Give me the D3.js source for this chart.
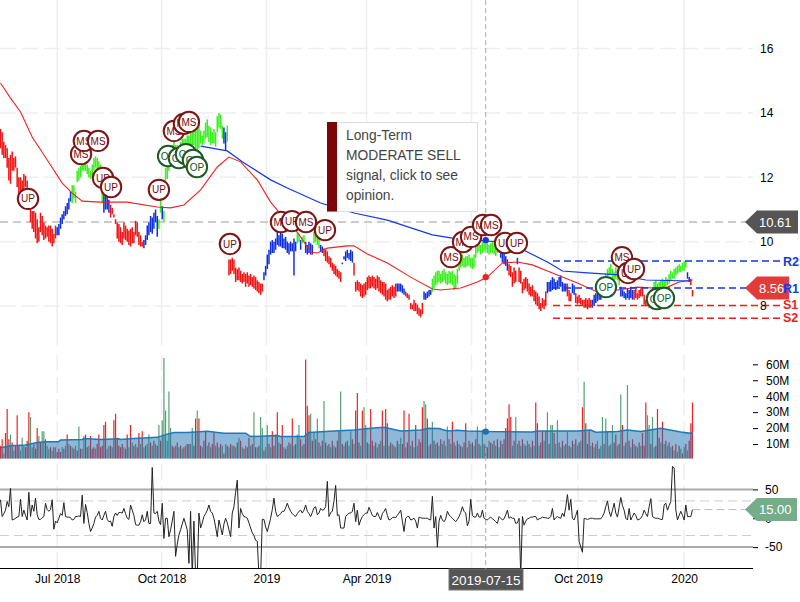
<!DOCTYPE html>
<html>
<head>
<meta charset="utf-8">
<title>Stock chart</title>
<script src="https://cdn.jsdelivr.net/npm/d3@7"></script>
<style>
    body { margin: 0; background: #fff; }
    svg { display: block; }
    text { font-family: "Liberation Sans", Arial, sans-serif; }
</style>
</head>
<body>
<div id="chart"></div>
<script>
// daily bars, oldest first
const priceHigh = [
    13.5,13.4,13.1,13.0,12.9,12.6,12.7,12.8,12.6,12.65,
    12.3,12.0,12.0,11.9,12.1,12.05,11.9,11.5,11.2,10.95,
    10.95,10.9,10.7,10.45,10.9,10.8,10.6,10.5,10.45,10.5,
    10.5,10.4,10.25,10.5,10.45,10.55,10.75,10.85,10.95,11.1,
    11.2,11.35,11.55,11.75,11.75,11.55,12.2,12.3,12.35,12.45,
    12.5,12.45,12.4,12.3,12.2,12.4,12.6,12.65,12.6,12.5,
    12.4,12.3,11.6,11.55,11.4,11.3,11.15,11.05,10.85,10.7,
    10.6,10.55,10.45,10.3,10.6,10.5,10.4,10.35,10.4,10.45,
    10.3,10.65,10.6,10.3,10.2,10.0,10.05,10.2,10.5,10.6,
    10.8,10.75,10.9,11.0,10.8,10.7,11.3,11.1,10.95,12.3,
    12.4,12.6,12.9,13.0,13.1,13.0,13.0,12.9,13.1,13.2,
    13.2,13.2,13.3,13.3,13.4,13.5,13.6,13.7,13.7,13.65,
    13.45,13.3,13.45,13.7,13.8,13.6,13.55,13.4,13.5,13.4,
    13.9,14.0,13.95,13.6,13.55,13.4,13.6,9.45,9.45,9.5,
    9.45,9.2,9.15,9.2,9.1,9.0,9.05,9.0,9.05,8.95,
    9.0,8.9,8.95,8.9,8.8,8.75,8.7,8.7,9.05,9.25,
    9.6,9.75,10.0,10.05,10.0,10.1,10.3,10.2,10.3,10.25,
    10.1,10.15,10.0,9.95,10.0,9.95,10.1,10.0,10.3,10.25,
    10.05,10.15,10.2,10.0,9.9,10.0,9.95,9.9,10.3,10.25,
    10.25,10.15,9.9,9.85,9.8,9.75,9.7,9.55,9.5,9.35,
    9.3,9.25,9.15,9.1,9.05,9.3,9.55,9.7,9.75,9.65,
    9.75,9.7,9.35,8.75,8.8,8.75,8.7,8.65,8.7,8.75,
    8.9,8.95,8.9,8.95,8.9,8.85,8.95,8.9,8.8,8.75,
    8.75,8.7,8.5,8.55,8.6,8.65,8.6,8.7,8.7,8.7,
    8.7,8.65,8.55,8.45,8.4,8.35,8.1,8.05,8.2,8.1,
    8.05,7.95,7.9,8.1,8.45,8.4,8.45,8.5,8.5,8.85,
    8.95,9.05,9.1,9.1,9.0,9.1,9.15,9.05,9.0,9.1,
    9.05,9.1,9.0,8.95,9.15,9.4,9.55,9.6,9.5,9.55,
    9.55,9.6,9.5,9.5,9.6,9.95,10.0,10.05,9.9,10.0,
    10.05,10.1,10.0,9.9,9.95,10.0,9.95,9.9,10.05,10.1,
    9.85,9.75,9.7,9.55,9.45,9.3,9.25,9.05,9.2,9.1,
    9.5,9.2,9.1,8.75,8.85,8.9,8.85,8.7,8.6,8.65,
    8.5,8.45,8.4,8.3,8.1,8.25,8.2,8.45,8.75,8.75,
    8.8,8.9,8.85,8.75,8.8,8.9,8.95,8.75,8.7,8.7,
    8.7,8.5,8.4,8.7,8.65,8.4,8.3,8.35,8.25,8.2,
    8.2,8.25,8.2,8.25,8.2,8.2,8.35,8.4,8.45,8.5,
    8.5,8.7,8.85,9.0,9.15,9.2,9.3,9.15,9.05,9.2,
    9.1,9.0,8.6,8.5,8.45,8.4,8.55,8.5,8.6,8.5,
    8.5,8.55,8.4,8.5,8.55,8.6,8.35,8.2,8.3,8.2,
    8.2,8.15,8.75,8.8,8.7,8.75,8.8,8.85,8.8,8.9,
    8.85,9.0,9.1,9.05,9.15,9.2,9.25,9.3,9.25,9.35,
    9.4,9.4,9.05,8.9,8.85,8.5
];
const priceLow = [
    12.9,12.7,12.6,12.6,12.3,11.9,11.8,12.2,12.2,12.3,
    11.7,11.45,11.5,11.5,11.6,11.7,11.5,11.0,10.6,10.4,
    10.3,10.1,9.95,10.0,10.3,10.2,10.05,10.1,10.15,10.0,
    9.95,9.85,9.95,10.1,10.2,10.2,10.4,10.55,10.7,10.8,
    10.85,11.0,11.25,11.2,11.35,11.2,11.85,11.9,12.0,12.2,
    12.2,12.2,12.1,12.0,11.95,12.0,12.2,12.3,12.2,12.0,
    12.0,11.2,10.9,11.0,11.0,10.9,10.75,10.85,10.75,10.55,
    10.1,10.0,9.95,9.9,10.1,10.05,10.0,9.9,9.85,9.95,
    9.95,10.2,10.15,9.9,9.85,9.85,9.8,9.9,10.05,10.2,
    10.3,10.25,10.4,10.6,10.15,10.4,10.9,10.7,10.6,11.9,
    11.95,12.2,12.5,12.7,12.75,12.7,12.7,12.75,12.8,12.85,
    12.9,12.85,12.9,13.0,13.0,13.0,13.0,12.85,12.85,12.9,
    13.05,13.0,13.05,13.2,13.25,13.1,13.0,13.05,13.05,12.95,
    13.4,13.55,13.5,13.2,13.05,12.85,13.1,8.95,9.0,9.1,
    9.0,8.75,8.8,8.8,8.75,8.7,8.75,8.6,8.7,8.6,
    8.65,8.6,8.55,8.5,8.45,8.4,8.35,8.45,8.8,8.95,
    9.15,9.3,9.6,9.65,9.65,9.75,9.9,9.85,9.85,9.8,
    9.8,9.75,9.65,9.6,9.7,9.7,8.95,9.7,9.95,10.0,
    9.75,9.95,10.0,9.65,9.6,9.65,9.6,9.6,9.95,10.0,
    9.9,9.8,9.7,9.65,9.55,9.4,9.35,9.3,9.2,9.1,
    9.0,8.95,8.9,8.85,8.75,9.35,9.45,9.4,9.5,9.45,
    9.4,9.35,8.95,8.45,8.5,8.45,8.3,8.25,8.3,8.35,
    8.5,8.55,8.55,8.6,8.55,8.5,8.55,8.45,8.4,8.35,
    8.3,8.2,8.15,8.2,8.2,8.3,8.25,8.3,8.45,8.45,
    8.45,8.4,8.35,8.3,8.25,8.2,7.9,7.9,7.85,7.85,
    7.75,7.7,7.65,7.75,8.2,8.2,8.25,8.3,8.35,8.45,
    8.55,8.65,8.7,8.75,8.7,8.75,8.8,8.7,8.65,8.7,
    8.7,8.65,8.5,8.55,8.7,9.1,9.2,9.25,9.2,9.2,
    9.25,9.25,9.2,9.15,9.2,9.5,9.65,9.7,9.6,9.65,
    9.7,9.75,9.65,9.6,9.65,9.65,9.6,9.55,9.65,9.7,
    9.5,9.35,9.3,9.25,9.1,8.95,8.9,8.6,8.7,8.75,
    9.3,8.75,8.7,8.4,8.5,8.55,8.45,8.35,8.3,8.3,
    8.15,8.05,8.0,7.9,7.85,7.95,7.9,8.0,8.4,8.45,
    8.45,8.5,8.55,8.5,8.55,8.6,8.6,8.45,8.45,8.45,
    8.3,8.15,8.15,8.4,8.35,8.1,8.05,8.1,8.05,8.0,
    7.95,7.95,7.9,7.95,7.95,7.95,8.0,8.1,8.15,8.2,
    8.2,8.5,8.6,8.7,8.9,8.95,9.0,8.85,8.8,8.85,
    8.8,8.65,8.3,8.3,8.25,8.2,8.25,8.2,8.25,8.2,
    8.2,8.25,8.2,8.25,8.3,8.3,8.05,8.0,8.05,7.95,
    7.95,7.9,8.45,8.5,8.4,8.45,8.5,8.55,8.55,8.6,
    8.65,8.7,8.8,8.85,8.85,8.95,9.0,9.05,9.05,9.1,
    9.1,9.2,8.85,8.75,8.65,8.3
];

// trend of the price bars, as runs of bars
const trendNames = ['bear','flat','bull','flat','bear','flat','bull','flat','bull','flat','bull',
    'bear','flat','bull','flat','bull','flat','bull','flat','bear','flat','bear','flat','bear','flat',
    'bull','flat','bear','flat','bear','flat','bear','flat','bear','flat','bull','flat','bear','bull','flat','bear'];
const trendRuns = [34,9,19,4,20,9,2,1,36,2,1,
    21,20,2,1,2,5,4,2,11,7,26,5,11,5,
    41,5,5,1,17,12,3,2,10,6,11,8,12,20,2,2];

// volume in millions, negative = red day, positive = green day
const volumes = [
    -9,-13,4,-17,-32,-13,16,-11,6,-9,
    -28,-9,6,14,9,-8,-12,-30,27,8,
    -10,-7,-20,15,-11,18,18,-13,9,7,
    -8,6,-8,8,-5,-7,-5,8,-7,9,
    -16,10,-9,8,-7,9,-6,21,-7,7,
    15,-16,-8,9,-15,-7,-8,7,-10,-16,
    -8,-9,-22,-24,7,9,-9,8,-25,-29,
    -14,-9,-8,-10,8,-7,-16,8,-22,11,
    -9,10,-8,-17,10,-18,8,-9,10,16,
    -11,9,-12,10,-9,22,-12,25,64,31,
    12,43,20,-9,-8,9,-11,8,-9,7,
    -8,9,-10,-10,10,20,-9,-26,31,-26,
    -9,8,-12,-18,9,-11,8,-10,-17,9,
    -11,8,-10,9,-4,10,-9,8,-10,9,
    -9,8,-11,14,-12,8,-7,9,-8,-14,
    9,-10,30,-8,8,-9,27,20,-6,8,
    22,-10,8,-18,-9,16,-30,11,-10,-22,
    8,-7,9,-11,10,-26,9,-10,16,22,
    -13,9,-10,-63,-34,-28,29,-12,17,-13,
    26,-11,9,-12,37,-11,9,-10,8,-12,
    9,-8,-12,-18,43,-10,9,-11,-12,9,
    18,-13,10,-31,-42,-11,9,-31,33,22,
    -11,10,-32,-12,9,-11,8,-10,12,-31,
    9,-32,-23,9,-11,10,-9,8,-12,10,
    14,-10,-31,8,-11,-29,9,-12,8,-22,
    9,-13,-11,-33,37,35,-26,9,-10,24,
    -12,10,-11,9,-13,10,-12,9,21,-13,
    10,-24,-11,9,-12,10,-9,8,-11,-23,
    8,-12,10,-11,9,-13,21,-10,9,19,
    -10,9,-8,12,-11,10,-12,9,-13,8,
    -12,10,-13,-20,-26,-35,-27,9,-12,27,
    10,-12,9,-13,10,-9,12,-10,8,-12,
    9,-36,-23,9,-11,-18,12,-18,30,-10,
    22,22,-17,10,25,-11,8,-12,9,-10,
    18,-9,8,-12,10,-13,9,-11,12,-33,
    49,-23,-10,-19,9,-11,8,-10,12,-7,
    9,27,-10,26,18,-9,10,22,-11,-16,
    9,-10,41,-22,9,-11,47,-12,8,-13,
    10,-9,8,-11,9,-17,-9,-36,28,22,
    -10,27,8,-9,-32,-14,11,-24,10,-12,
    9,-11,8,-9,6,-10,5,-9,7,-4,
    8,-10,6,-12,-23,-36
];

// oscillator, one value per bar
const oscillator = [
    32,3,8,14,29,20,52,-3,-2,0,
    2,3,33,3,14,5,-3,45,3,23,
    12,35,6,-2,-2,1,3,26,15,12,
    15,32,-19,-5,-8,0,8,5,27,3,
    2,2,1,-3,-2,3,3,4,3,40,
    -9,24,10,-9,-23,-17,-9,2,5,12,
    0,-3,5,12,-2,-6,-5,-14,3,9,
    5,10,10,9,17,8,0,-2,23,14,
    5,-11,-12,-12,-6,6,-6,-3,12,-9,
    -9,88,9,8,12,-5,-11,26,-35,0,
    0,-32,-20,-5,12,-66,-45,-29,-20,-10,
    0,-10,-20,-78,12,-100,-5,-100,-100,9,
    -17,-8,3,8,14,23,12,9,0,-15,
    -32,-3,-15,-29,-10,0,-8,-20,-32,9,
    20,45,66,-17,17,8,3,2,0,-8,
    -17,-25,-30,-38,-40,-100,-100,-2,-2,-15,
    -23,-12,0,15,35,12,3,5,8,12,
    12,18,26,18,12,8,5,3,8,12,
    14,9,14,23,12,8,3,10,18,20,
    6,9,17,14,15,20,64,3,10,12,
    30,57,5,6,-17,-17,-17,3,6,9,
    9,12,26,-6,14,-12,-3,3,6,9,
    9,19,12,5,3,3,10,3,-3,8,
    12,17,5,-3,-2,1,2,1,5,9,
    14,-5,-23,0,3,3,-3,-2,0,-5,
    -17,2,1,0,0,0,0,-2,-3,38,
    -17,3,-50,-5,5,-3,-6,-1,12,6,
    3,0,-3,-6,-2,3,10,20,12,9,
    -13,-5,33,5,2,2,9,2,2,14,
    0,-2,-3,0,2,-1,-3,-6,-9,3,
    0,-3,-1,6,14,0,2,0,0,-9,
    -8,0,-100,3,-12,-5,-1,0,2,2,
    3,3,-3,-1,0,2,1,1,0,0,
    3,17,-3,1,3,1,0,9,3,20,
    41,14,33,0,-3,5,14,-40,-50,-59,
    0,-1,-2,-1,0,0,-1,-1,-1,-1,
    -1,3,9,20,30,12,3,14,26,9,
    2,19,36,22,14,0,-3,17,-3,3,
    9,5,-3,-2,0,5,14,8,3,20,
    34,3,1,0,0,-1,-2,-2,23,26,
    14,22,29,90,87,14,-3,5,12,5,
    -3,23,3,3,3,15
];

// moving averages, read at knots: bar number and value
const slowBars = [0,6,12,19,30,37,43,49,60,76,94,102,110,120,130,137,144,154,162,166,178,186,190,196,208,212,220,232,246,259,264,276,286,292,301,310,319,331,346,358,370,382,391,400,407,415];
const slowValues = [14.93,14.46,14.03,13.25,12.38,11.82,11.51,11.26,11.23,11.23,11.08,11.05,11.14,11.61,12.32,12.63,12.48,11.92,11.23,10.98,10.30,9.68,9.65,9.80,9.87,9.87,9.62,9.34,8.90,8.53,8.50,8.56,8.75,8.90,9.34,9.37,9.28,9.03,8.72,8.44,8.50,8.59,8.56,8.59,8.75,8.81];
const longBars = [120,136,145,162,172,192,212,232,259,271,292,304,316,328,337,352,371,387,414];
const longValues = [12.97,12.82,12.48,11.92,11.67,11.20,10.89,10.67,10.21,10.11,10.02,9.99,9.68,9.37,9.09,9.03,8.97,8.81,8.78];
const volumeAvgBars = [0,6,15,22,27,35,36,49,50,60,71,72,80,94,99,104,112,124,134,147,150,166,168,182,185,200,212,222,230,240,252,257,263,268,274,280,292,319,322,346,354,357,370,376,384,396,408,414,415];
const volumeAvgValues = [7.7,9.0,9.4,11.0,11.5,11.5,12.5,12.9,13.5,12.9,13.3,12.9,13.5,14.2,15.9,17.2,17.2,18.0,16.8,16.8,14.7,15.3,14.7,14.7,17.2,18.2,18.8,19.9,20.5,18.2,18.8,19.9,19.7,18.2,18.6,18.2,17.8,17.6,18.2,18.2,18.8,17.4,17.8,18.8,17.8,19.9,17.6,16.7,17.4];

// analyst markers
const markerLabels = ['UP','MS','MS','MS','UP','UP','UP','OP','OP','OP','OP','OP','MS','MS','MS','UP','MS','UP','MS','UP','MS','MS','MS','MS','MS','UP','UP','OP','MS','UP','UP','OP','OP'];
const markerBars = [16.5,48.3,50,58.5,61.5,66.3,95,100.5,107,111.2,115.4,117.8,104,110,113,137.6,168.2,174.8,183.2,194.6,270.2,277.4,282.2,289.4,294.2,302.6,309.7,363.1,372.7,376.3,379.9,393.7,397.9];
const markerPrices = [11.33,12.72,13.13,13.13,11.98,11.70,11.61,12.66,12.60,12.72,12.54,12.32,13.44,13.66,13.72,9.93,10.61,10.64,10.61,10.36,9.52,9.99,10.15,10.52,10.52,9.96,9.96,8.59,9.52,9.03,9.15,8.22,8.25];

// axis ticks
const timeTickBars = [34,96.6,159.5,219.5,282.5,346.4,410];
const timeTickLabels = ['Jul 2018','Oct 2018','2019','Apr 2019','Jul 2019','Oct 2019','2020'];
const priceTicks = [8,10,12,14,16];
const volumeTicks = [10,20,30,40,50,60];
const oscillatorTicks = [-50,0,50];

// support and resistance
const levelNames = ['R2','R1','S1','S2'];
const levelValues = [9.40,8.56,8.02,7.62];

// readouts at the crosshair and at the last bar
const crossBar = 291;
const crossDate = '2019-07-15';
const crossLong = 10.05;
const crossSlow = 8.90;
const crossVolumeAvg = 17.8;
const lastClose = 10.61;
const lastPrice = 8.56;
const lastOscillator = 15.00;
const opinionLines = ['Long-Term', 'MODERATE SELL', 'signal, click to see', 'opinion.'];

const width = 800;
const height = 602;
const plotRight = 753;

const barCount = priceHigh.length;
const x = d3.scaleLinear().domain([0, barCount - 1]).range([0.5, 692.5]);
const yPrice = d3.scaleLinear().domain([8, 16]).range([306.1, 48.5]);
const yVolume = d3.scaleLinear().domain([0, 60]).range([460, 364.3]);
const yOsc = d3.scaleLinear().domain([-50, 50]).range([547.1, 489.4]);

const trendColor = { bear: '#f01414', flat: '#1030e0', bull: '#38f01c' };
const markerStroke = { UP: '#7c1616', MS: '#7c1616', OP: '#1c5a28' };
const markerText = { UP: '#7a0a0a', MS: '#7a0a0a', OP: '#14551f' };

// expand the runs into one trend name per bar
const trends = trendRuns.flatMap((n, i) => d3.range(n).map(() => trendNames[i]));
const bars = d3.range(barCount);

const svg = d3.select('#chart')
    .append('svg')
    .attr('width', width)
    .attr('height', height);

const defs = svg.append('defs');
defs.append('clipPath').attr('id', 'clip-volume')
    .append('rect').attr('x', 0).attr('y', 350).attr('width', plotRight).attr('height', 108.5);
defs.append('clipPath').attr('id', 'clip-osc')
    .append('rect').attr('x', 0).attr('y', 464).attr('width', plotRight).attr('height', 104);

// grid
const grid = svg.append('g').attr('stroke', '#eee').attr('fill', 'none');
grid.selectAll('.vgrid-top')
    .data(timeTickBars)
    .join('line')
    .attr('class', 'vgrid-top')
    .attr('x1', d => x(d)).attr('x2', d => x(d))
    .attr('y1', 0).attr('y2', 345)
    .attr('stroke-width', 1.5);
grid.selectAll('.vgrid-vol')
    .data(timeTickBars)
    .join('path')
    .attr('class', 'vgrid-vol')
    .attr('d', d => `M${x(d)},355V458M${x(d)},464V568`)
    .attr('stroke-width', 1.5)
    .attr('stroke-dasharray', '16,6');
grid.selectAll('.hgrid')
    .data(priceTicks)
    .join('path')
    .attr('class', 'hgrid')
    .attr('d', d => `M0,${yPrice(d)}H${plotRight}`)
    .attr('stroke-width', 1.5)
    .attr('stroke-dasharray', '16,6');

// volume panel
const volumePanel = svg.append('g').attr('clip-path', 'url(#clip-volume)');
volumePanel.selectAll('line')
    .data(bars)
    .join('line')
    .attr('x1', d => x(d)).attr('x2', d => x(d))
    .attr('y1', yVolume(0))
    .attr('y2', d => yVolume(Math.abs(volumes[d])))
    .attr('stroke', d => volumes[d] < 0 ? '#ee2222' : '#55a077')
    .attr('stroke-width', 1.2);

volumePanel.append('path')
    .datum(d3.range(volumeAvgBars.length))
    .attr('d', d3.area()
        .x(i => x(volumeAvgBars[i]))
        .y0(yVolume(0))
        .y1(i => yVolume(volumeAvgValues[i])))
    .attr('fill', '#1f6fb0')
    .attr('fill-opacity', 0.5);
volumePanel.append('path')
    .datum(d3.range(volumeAvgBars.length))
    .attr('d', d3.line()
        .x(i => x(volumeAvgBars[i]))
        .y(i => yVolume(volumeAvgValues[i])))
    .attr('fill', 'none')
    .attr('stroke', '#1f78b8')
    .attr('stroke-width', 1.5);

// oscillator panel
svg.append('g').selectAll('line')
    .data([50, -50])
    .join('line')
    .attr('x1', 0).attr('x2', plotRight)
    .attr('y1', d => yOsc(d)).attr('y2', d => yOsc(d))
    .attr('stroke', '#aaa')
    .attr('stroke-width', 2);
svg.append('g').selectAll('line')
    .data([30, -30])
    .join('line')
    .attr('x1', 0).attr('x2', plotRight)
    .attr('y1', d => yOsc(d)).attr('y2', d => yOsc(d))
    .attr('stroke', '#ccc')
    .attr('stroke-dasharray', '9,5');

svg.append('path')
    .datum(oscillator)
    .attr('clip-path', 'url(#clip-osc)')
    .attr('d', d3.line().x((d, i) => x(i)).y(d => yOsc(d)))
    .attr('fill', 'none')
    .attr('stroke', '#222')
    .attr('stroke-width', 1);

svg.append('line')
    .attr('x1', 0).attr('x2', plotRight)
    .attr('y1', 568.5).attr('y2', 568.5)
    .attr('stroke', '#000');

// dashed guide lines to the value tags
svg.append('line')
    .attr('x1', 0).attr('x2', 746)
    .attr('y1', yPrice(lastClose)).attr('y2', yPrice(lastClose))
    .attr('stroke', '#ccc')
    .attr('stroke-width', 2)
    .attr('stroke-dasharray', '8,5');
svg.append('line')
    .attr('x1', x(barCount - 1)).attr('x2', 746)
    .attr('y1', yOsc(lastOscillator)).attr('y2', yOsc(lastOscillator))
    .attr('stroke', '#bbb')
    .attr('stroke-dasharray', '8,4');

// price bars
svg.append('g').selectAll('line')
    .data(bars)
    .join('line')
    .attr('x1', d => x(d)).attr('x2', d => x(d))
    .attr('y1', d => yPrice(priceHigh[d]))
    .attr('y2', d => yPrice(priceLow[d]))
    .attr('stroke', d => trendColor[trends[d]])
    .attr('stroke-width', 1.5);

// moving averages
const slowLine = d3.line().x(i => x(slowBars[i])).y(i => yPrice(slowValues[i]));
svg.append('path')
    .datum(d3.range(slowBars.length))
    .attr('d', slowLine)
    .attr('fill', 'none')
    .attr('stroke', '#ee2222')
    .attr('stroke-width', 1.1);
const longLine = d3.line().x(i => x(longBars[i])).y(i => yPrice(longValues[i]));
svg.append('path')
    .datum(d3.range(longBars.length))
    .attr('d', longLine)
    .attr('fill', 'none')
    .attr('stroke', '#1238e6')
    .attr('stroke-width', 1.2);

// support / resistance levels
const levels = svg.append('g').selectAll('line')
    .data(levelNames)
    .join('line')
    .attr('x1', 553).attr('x2', 783)
    .attr('y1', (d, i) => yPrice(levelValues[i]))
    .attr('y2', (d, i) => yPrice(levelValues[i]))
    .attr('stroke', (d, i) => i < 2 ? '#1238e6' : '#ee1c1c')
    .attr('stroke-width', 1.5)
    .attr('stroke-dasharray', '7,4');

// crosshair
svg.append('line')
    .attr('x1', x(crossBar)).attr('x2', x(crossBar))
    .attr('y1', 0).attr('y2', 569)
    .attr('stroke', '#aaa')
    .attr('stroke-dasharray', '5,3');
svg.append('circle').attr('cx', x(crossBar)).attr('cy', yPrice(crossLong)).attr('r', 3.2).attr('fill', '#1238e6');
svg.append('circle').attr('cx', x(crossBar)).attr('cy', yPrice(crossSlow)).attr('r', 3.2).attr('fill', '#ee2222');
svg.append('circle').attr('cx', x(crossBar)).attr('cy', yVolume(crossVolumeAvg)).attr('r', 3.2).attr('fill', '#1f6fb0');

// markers
const markers = svg.append('g').selectAll('g')
    .data(markerLabels)
    .join('g')
    .attr('transform', (d, i) => `translate(${x(markerBars[i])},${yPrice(markerPrices[i])})`);
markers.append('circle')
    .attr('r', 10.2)
    .attr('fill', '#fff')
    .attr('stroke', d => markerStroke[d])
    .attr('stroke-width', 2);
markers.append('text')
    .attr('text-anchor', 'middle')
    .attr('dy', '0.36em')
    .style('font-size', '10px')
    .attr('fill', d => markerText[d])
    .text(d => d);

// opinion box
const opinion = svg.append('g');
opinion.append('rect')
    .attr('x', 327.5).attr('y', 122.5).attr('width', 150).attr('height', 89)
    .attr('fill', '#fff')
    .attr('stroke', '#ddd');
opinion.append('rect')
    .attr('x', 327).attr('y', 122).attr('width', 10).attr('height', 89.5)
    .attr('fill', '#7d0505');
opinion.selectAll('text')
    .data(opinionLines)
    .join('text')
    .attr('x', 346)
    .attr('y', (d, i) => 140 + i * 20)
    .style('font-size', '13.8px')
    .attr('fill', '#444')
    .text(d => d);

// axes
function styleAxis(g) {
    g.select('.domain').remove();
    g.selectAll('text').attr('fill', '#000').style('font-size', '12px');
    g.selectAll('line').attr('stroke', '#000');
}

svg.append('g')
    .attr('transform', 'translate(760,0)')
    .call(d3.axisRight(yPrice).tickValues(priceTicks).tickSize(0).tickPadding(0))
    .call(styleAxis);

svg.append('g')
    .attr('transform', 'translate(753,0)')
    .call(d3.axisRight(yVolume).tickValues(volumeTicks).tickSize(5).tickPadding(8).tickFormat(d => d + 'M'))
    .call(styleAxis);

svg.append('g')
    .attr('transform', 'translate(753,0)')
    .call(d3.axisRight(yOsc).tickValues(oscillatorTicks).tickSize(5).tickPadding(7).tickFormat(d => d))
    .call(styleAxis);

svg.append('g')
    .attr('transform', 'translate(0,569)')
    .call(d3.axisBottom(x).tickValues(timeTickBars).tickSize(0).tickPadding(5)
        .tickFormat((d, i) => timeTickLabels[i]))
    .call(styleAxis);

// value tags
function valueTag(value, yPos, right, fill) {
    svg.append('path')
        .attr('d', `M745,${yPos}L757,${yPos - 11.5}H${right}V${yPos + 11.5}H757Z`)
        .attr('fill', fill);
    svg.append('text')
        .attr('x', 759)
        .attr('y', yPos)
        .attr('dy', '0.36em')
        .style('font-size', '13px')
        .attr('fill', '#fff')
        .text(value.toFixed(2));
}
valueTag(lastClose, yPrice(lastClose), 798, '#555');
valueTag(lastPrice, yPrice(lastPrice), 789, '#e33a3a');
valueTag(lastOscillator, yOsc(lastOscillator), 797, '#75ac8a');

// level labels go over the last-price tag
svg.append('g').selectAll('text')
    .data(levelNames)
    .join('text')
    .attr('x', 783)
    .attr('y', (d, i) => yPrice(levelValues[i]) + (i < 2 ? 0 : -1))
    .attr('dy', '0.36em')
    .style('font-size', '12.5px')
    .style('font-weight', 'bold')
    .attr('fill', (d, i) => i < 2 ? '#1238e6' : '#ee1c1c')
    .text(d => d);

// date label on the crosshair
svg.append('rect')
    .attr('x', 449).attr('y', 569).attr('width', 74).attr('height', 21)
    .attr('fill', '#555')
    .attr('stroke', '#777');
svg.append('text')
    .attr('x', 486).attr('y', 580)
    .attr('dy', '0.36em')
    .attr('text-anchor', 'middle')
    .style('font-size', '13.5px')
    .attr('fill', '#fff')
    .text(crossDate);
</script>
</body>
</html>
